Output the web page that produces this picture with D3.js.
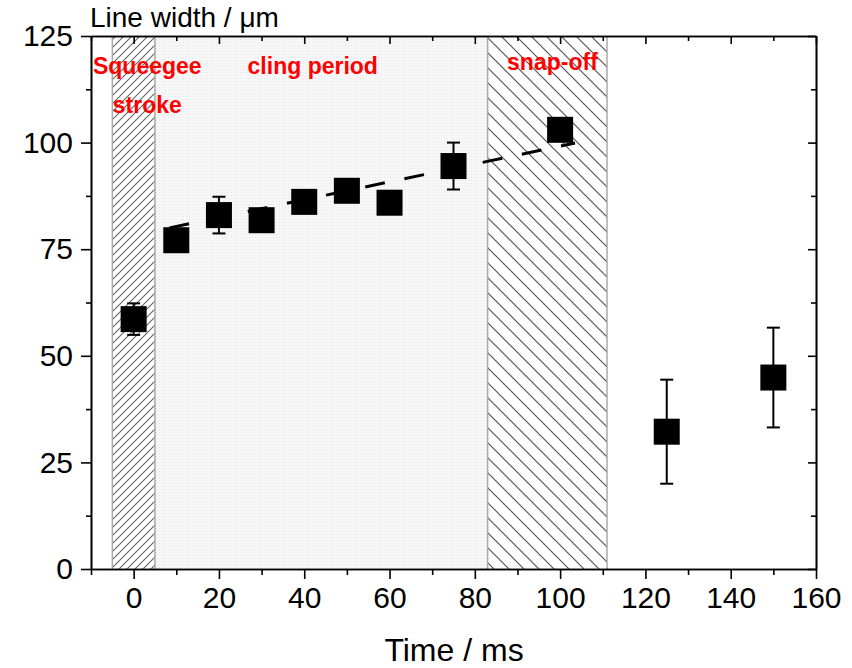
<!DOCTYPE html>
<html>
<head>
<meta charset="utf-8">
<script src="https://cdn.jsdelivr.net/npm/d3@7"></script>
<style>
  html, body { margin: 0; padding: 0; background: #fff; }
  svg { display: block; }
  text { font-family: Arial, "Liberation Sans", sans-serif; }
</style>
</head>
<body>
<svg id="chart" width="852" height="668"></svg>
<script>
// ---- data ----
const timeMs     = [0, 10, 20, 30, 40, 50, 60, 75, 100, 125, 150];
const lineWidth  = [58.6, 77.1, 83.0, 81.8, 86.1, 88.7, 85.9, 94.5, 103.0, 32.2, 44.9];
const lineErr    = [3.7, 1.5, 4.3, 1.5, 1.5, 1.5, 1.5, 5.5, 1.5, 12.2, 11.7];
const fitTime    = [8.4, 103.5];
const fitWidth   = [80.0, 99.9];
const regionNames  = ["Squeegee stroke", "cling period", "snap-off"];
const regionStart  = [-5, 5, 83];
const regionEnd    = [5, 83, 111];
const regionStyle  = ["hatchA", "dots", "hatchB"];
const labelLines   = [["Squeegee", "stroke"], ["cling period"], ["snap-off"]];
const labelX       = [3.2, 42, 98.2];
const labelY       = [[116.0, 107.0], [116.0], [117.1]];
const xMajorTicks  = [0, 20, 40, 60, 80, 100, 120, 140, 160];
const xMinorTicks  = [-10, 10, 30, 50, 70, 90, 110, 130, 150];
const yMajorTicks  = [0, 25, 50, 75, 100, 125];
const yMinorTicks  = [12.5, 37.5, 62.5, 87.5, 112.5];
const xTitle = "Time / ms";
const yTitle = "Line width / μm";

// ---- layout ----
const svg = d3.select("#chart");
const L = 91, R = 816, T = 36, B = 569;
const x = d3.scaleLinear().domain([-10, 160]).range([L, R]);
const y = d3.scaleLinear().domain([0, 125]).range([B, T]);

// patterns
const defs = svg.append("defs");
const pA = defs.append("pattern").attr("id", "hatchA").attr("patternUnits", "userSpaceOnUse")
  .attr("width", 8).attr("height", 8);
pA.append("rect").attr("width", 8).attr("height", 8).attr("fill", "#fff");
pA.append("path").attr("d", "M-2,2 L2,-2 M0,8 L8,0 M6,10 L10,6")
  .attr("stroke", "#666").attr("stroke-width", 1.1);
const pB = defs.append("pattern").attr("id", "hatchB").attr("patternUnits", "userSpaceOnUse")
  .attr("width", 15).attr("height", 15);
pB.append("rect").attr("width", 15).attr("height", 15).attr("fill", "#fff");
pB.append("path").attr("d", "M-3,12 L3,18 M0,0 L15,15 M12,-3 L18,3")
  .attr("stroke", "#555").attr("stroke-width", 1.2);
const pD = defs.append("pattern").attr("id", "dots").attr("patternUnits", "userSpaceOnUse")
  .attr("width", 3).attr("height", 3);
pD.append("rect").attr("width", 3).attr("height", 3).attr("fill", "#f7f7f7");
pD.append("rect").attr("width", 1).attr("height", 1).attr("fill", "#e6e6e6");

// regions
const regions = regionNames.map((n, i) => ({ name: n, s: regionStart[i], e: regionEnd[i], st: regionStyle[i] }));
svg.append("g").selectAll("rect").data(regions).join("rect")
  .attr("x", d => x(d.s)).attr("y", T)
  .attr("width", d => x(d.e) - x(d.s)).attr("height", B - T)
  .attr("fill", d => `url(#${d.st})`);
svg.append("g").selectAll("line").data(regions.filter(d => d.st !== "dots").flatMap(d => [d.s, d.e])).join("line")
  .attr("x1", d => x(d)).attr("x2", d => x(d)).attr("y1", T).attr("y2", B)
  .attr("stroke", "#aaa").attr("stroke-width", 1.5);

// region labels
labelLines.forEach((lines, i) => {
  lines.forEach((t, j) => {
    svg.append("text").attr("x", x(labelX[i])).attr("y", y(labelY[i][j]))
      .attr("text-anchor", "middle").attr("font-weight", "bold").attr("font-size", 23)
      .attr("fill", "#ff0000").text(t);
  });
});

// fit line
svg.append("line")
  .attr("x1", x(fitTime[0])).attr("y1", y(fitWidth[0]))
  .attr("x2", x(fitTime[1])).attr("y2", y(fitWidth[1]))
  .attr("stroke", "#000").attr("stroke-width", 3).attr("stroke-dasharray", "20,20");

// error bars
const pts = timeMs.map((t, i) => ({ t, v: lineWidth[i], e: lineErr[i] }));
const eb = svg.append("g").attr("stroke", "#000").attr("stroke-width", 2);
pts.forEach(d => {
  eb.append("line").attr("x1", x(d.t)).attr("x2", x(d.t)).attr("y1", y(d.v - d.e)).attr("y2", y(d.v + d.e));
  [d.v - d.e, d.v + d.e].forEach(v => {
    eb.append("line").attr("x1", x(d.t) - 6.5).attr("x2", x(d.t) + 6.5).attr("y1", y(v)).attr("y2", y(v));
  });
});

// markers
const S = 26;
svg.append("g").selectAll("rect").data(pts).join("rect")
  .attr("x", d => x(d.t) - S / 2).attr("y", d => y(d.v) - S / 2)
  .attr("width", S).attr("height", S).attr("fill", "#000");

// axes
function styleAxis(g) {
  g.selectAll("path.domain").attr("stroke", "#000").attr("stroke-width", 1.6);
  g.selectAll(".tick line").attr("stroke", "#000").attr("stroke-width", 1.6);
}
// bottom
const gB = svg.append("g").attr("transform", `translate(0,${B})`);
gB.append("g").call(d3.axisBottom(x).tickValues(xMinorTicks).tickSize(6).tickFormat("").tickSizeOuter(0)).call(styleAxis);
gB.append("g").call(d3.axisBottom(x).tickValues(xMajorTicks).tickSize(10).tickSizeOuter(0).tickPadding(8)).call(styleAxis)
  .selectAll("text").attr("font-size", 30).attr("fill", "#000").attr("font-family", "Arial, 'Liberation Sans', sans-serif");
// top
const gT = svg.append("g").attr("transform", `translate(0,${T})`);
gT.append("g").call(d3.axisTop(x).tickValues(xMinorTicks).tickSize(-5).tickFormat("").tickSizeOuter(0)).call(styleAxis);
gT.append("g").call(d3.axisTop(x).tickValues(xMajorTicks).tickSize(-8).tickFormat("").tickSizeOuter(0)).call(styleAxis);
// left
const gL = svg.append("g").attr("transform", `translate(${L},0)`);
gL.append("g").call(d3.axisLeft(y).tickValues(yMinorTicks).tickSize(5).tickFormat("").tickSizeOuter(0)).call(styleAxis);
gL.append("g").call(d3.axisLeft(y).tickValues(yMajorTicks).tickSize(10).tickSizeOuter(0).tickPadding(8)).call(styleAxis)
  .selectAll("text").attr("font-size", 30).attr("fill", "#000").attr("font-family", "Arial, 'Liberation Sans', sans-serif");
// right
const gR = svg.append("g").attr("transform", `translate(${R},0)`);
gR.append("g").call(d3.axisRight(y).tickValues(yMinorTicks).tickSize(-5).tickFormat("").tickSizeOuter(0)).call(styleAxis);
gR.append("g").call(d3.axisRight(y).tickValues(yMajorTicks).tickSize(-8).tickFormat("").tickSizeOuter(0)).call(styleAxis);

// titles
svg.append("text").attr("x", 454).attr("y", 661).attr("text-anchor", "middle")
  .attr("font-size", 32).attr("fill", "#000").text(xTitle);
svg.append("text").attr("x", 90).attr("y", 27).attr("text-anchor", "start")
  .attr("font-size", 28).attr("fill", "#000").text(yTitle);
</script>
</body>
</html>
